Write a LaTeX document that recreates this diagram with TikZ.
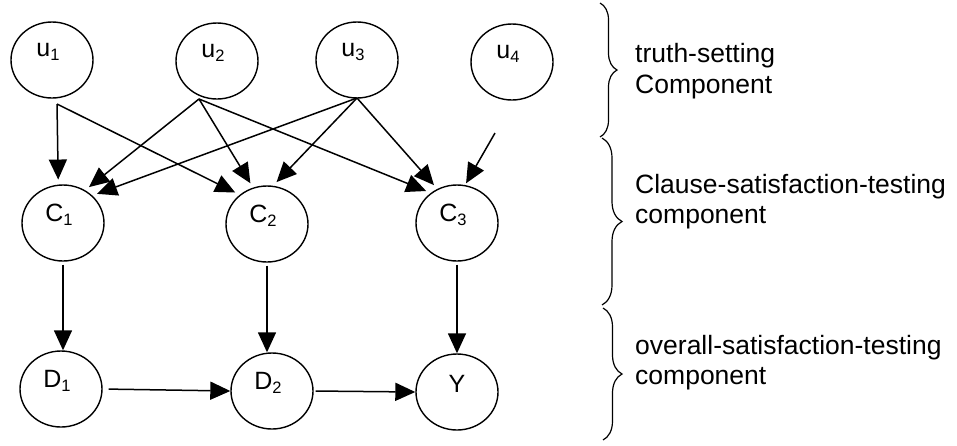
\documentclass[tikz,border=0pt]{standalone}
\usepackage{fontspec}
\setmainfont{Liberation Sans}
\usetikzlibrary{arrows.meta,decorations.pathreplacing,shapes.geometric}
\newcommand{\sbs}[1]{\raisebox{-4pt}{\fontsize{16.5}{16.5}\selectfont #1}}
\begin{document}
\begin{tikzpicture}[x=1pt,y=-1pt,
  var/.style={ellipse, draw, line width=1.4pt, minimum width=82pt, minimum height=76pt, inner sep=0pt},
  lab/.style={font=\fontsize{25}{25}\selectfont, inner sep=0pt, shift={(-4pt,8pt)}},
  arr/.style={line width=1.5pt, -{Triangle[length=20pt,width=18pt]}},
  note/.style={font=\fontsize{26.5}{31}\selectfont, inner sep=0pt, anchor=base west},
  brc/.style={decorate, line width=1.2pt}]
\useasboundingbox (0,0) rectangle (957,445);

% variable nodes
\node[var, label={[lab]center:u\sbs{1}}] (u1) at (52,60) {};
\node[var, label={[lab]center:u\sbs{2}}] (u2) at (217,61) {};
\node[var, label={[lab]center:u\sbs{3}}] (u3) at (357,60) {};
\node[var, label={[lab]center:u\sbs{4}}] (u4) at (512,62) {};
\node[var, label={[lab]center:C\sbs{1}}] (C1) at (63,223) {};
\node[var, label={[lab]center:C\sbs{2}}] (C2) at (267,224) {};
\node[var, label={[lab]center:C\sbs{3}}] (C3) at (457,223) {};
\node[var, label={[lab]center:D\sbs{1}}] (D1) at (61,389) {};
\node[var, label={[lab]center:D\sbs{2}}] (D2) at (272,391) {};
\node[var, label={[lab, shift={(4pt,0pt)}]center:Y}] (Y) at (457,392) {};

% arrow origins
\coordinate (u1o) at (57,104);
\coordinate (u2o) at (199,99);
\coordinate (u3o) at (357,98);
\coordinate (u4o) at (495,133);

% truth-setting -> clause
\draw[arr, shorten >=5pt] (u1o) -- (C1.97);
\draw[arr, shorten >=5pt] (u1o) -- (C2.133);
\draw[arr, shorten >=5pt] (u2o) -- (C1.56);
\draw[arr, shorten >=5pt] (u2o) -- (C2.111);
\draw[arr, shorten >=5pt] (u2o) -- (C3.131);
\draw[arr, shorten >=5pt] (u3o) -- (C1.43);
\draw[arr, shorten >=5pt] (u3o) -- (C2.81);
\draw[arr, shorten >=5pt] (u3o) -- (C3.120);
\draw[arr, shorten >=2pt] (u4o) -- (C3.78);

% clause -> overall
\draw[arr, shorten <=3pt] (C1.south) -- (C1.south |- D1.north);
\draw[arr, shorten <=3pt] (C2.south) -- (C2.south |- D2.north);
\draw[arr, shorten <=3pt] (C3.south) -- (C3.south |- Y.north);
\draw[arr, shorten <=6pt] (D1.east) -- (D2.west);
\draw[arr, shorten <=2pt] (D2.east) -- (Y.west);

% braces
\coordinate (b1t) at (600,3);   \coordinate (b1b) at (600,137);
\coordinate (b2t) at (602,138); \coordinate (b2b) at (602,305);
\coordinate (b3t) at (603,308); \coordinate (b3b) at (603,440);
\draw[brc, decoration={brace, amplitude=17pt}] (b1t) -- (b1b);
\draw[brc, decoration={brace, amplitude=20pt}] (b2t) -- (b2b);
\draw[brc, decoration={brace, amplitude=19pt}] (b3t) -- (b3b);

% labels
\node[note] (t1a) at (635,62) {truth-setting};
\node[note] (t1b) at (635,93) {Component};
\node[note] (t2a) at (635,193) {Clause-satisfaction-testing};
\node[note] (t2b) at (635,223) {component};
\node[note] (t3a) at (635,354) {overall-satisfaction-testing};
\node[note] (t3b) at (635,384) {component};
\end{tikzpicture}
\end{document}
